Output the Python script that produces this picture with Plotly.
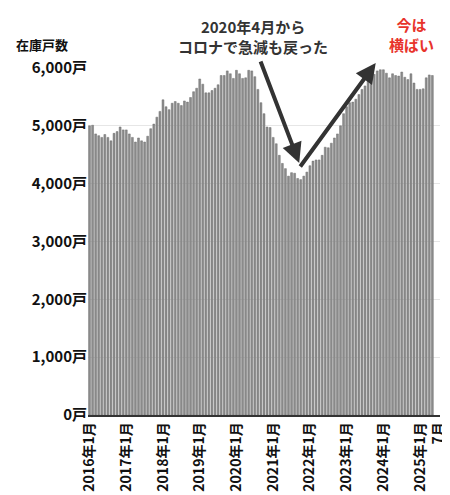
import plotly.graph_objects as go

values = [5000,5010,4860,4830,4800,4850,4800,4740,4870,4900,4980,4930,
          4930,4860,4800,4720,4790,4740,4720,4820,4950,5030,5150,5250,
          5450,5330,5280,5390,5420,5390,5350,5430,5410,5490,5590,5650,
          5810,5720,5570,5570,5610,5650,5710,5870,5870,5950,5900,5820,
          5960,5900,5820,5830,5960,5950,5850,5630,5400,5210,4980,4970,
          4800,4690,4490,4350,4260,4130,4190,4180,4090,4070,4130,4200,
          4310,4390,4410,4410,4490,4630,4620,4700,4790,4860,5000,5210,
          5330,5400,5410,5460,5540,5630,5690,5770,5910,5890,5950,5970,
          5970,5910,5830,5900,5870,5860,5930,5840,5800,5900,5740,5630,
          5630,5640,5830,5880,5870]
years = list(range(2016, 2026))
tick_idx = [12*k for k in range(len(years))] + [114]
tick_text = [f"{y}年1月" for y in years] + ["7月"]

x = list(range(len(values)))
fig = go.Figure(go.Bar(x=x, y=values, marker=dict(color="#8c8c8c", line=dict(color="#6e6e6e", width=0.5)),
                       width=0.62))
F = "Noto Sans CJK JP"
fig.update_layout(
    width=450, height=495, margin=dict(l=80, r=18, t=60, b=88),
    plot_bgcolor="white", paper_bgcolor="white", showlegend=False,
    font=dict(family=F, color="#111"),
    xaxis=dict(range=[-0.5, 114.5], tickvals=tick_idx, ticktext=tick_text, tickangle=-90,
               tickfont=dict(size=14, family=F, weight="bold"), showline=True, linecolor="#333",
               linewidth=1.5, ticks="", showgrid=False, automargin=False),
    yaxis=dict(range=[0, 6000], tickvals=[0,1000,2000,3000,4000,5000,6000],
               ticktext=["0戸","1,000戸","2,000戸","3,000戸","4,000戸","5,000戸","6,000戸"],
               tickfont=dict(size=15, family=F, weight="bold"), showgrid=True, gridcolor="#e6e6e6",
               zeroline=False, ticks="", automargin=False),
)
fig.add_annotation(xref="paper", yref="paper", x=-0.21, y=1.035, xanchor="left", yanchor="bottom",
                   text="<b>在庫戸数</b>", showarrow=False, font=dict(size=13, color="#111"))
fig.add_annotation(xref="paper", yref="paper", x=0.47, y=1.155, xanchor="center", yanchor="top",
                   text="<b>2020年4月から<br>コロナで急減も戻った</b>", showarrow=False,
                   font=dict(size=15, color="#333"))
fig.add_annotation(xref="paper", yref="paper", x=0.92, y=1.16, xanchor="center", yanchor="top",
                   text="<b>今は<br>横ばい</b>", showarrow=False, font=dict(size=15, color="#e8332b"))
arrows = [((55.7, 6138), (68.5, 4357), "#333"), ((68.5, 4271), (93.5, 6086), "#333"),
          ((99.1, 6173), (115.2, 6173), "#e8332b")]
for (tx, ty), (hx, hy), c in arrows:
    fig.add_annotation(x=hx, y=hy, ax=tx, ay=ty, xref="x", yref="y", axref="x", ayref="y",
                       showarrow=True, arrowhead=2, arrowsize=1, arrowwidth=4, arrowcolor=c, text="")
fig.write_html("out.html")
